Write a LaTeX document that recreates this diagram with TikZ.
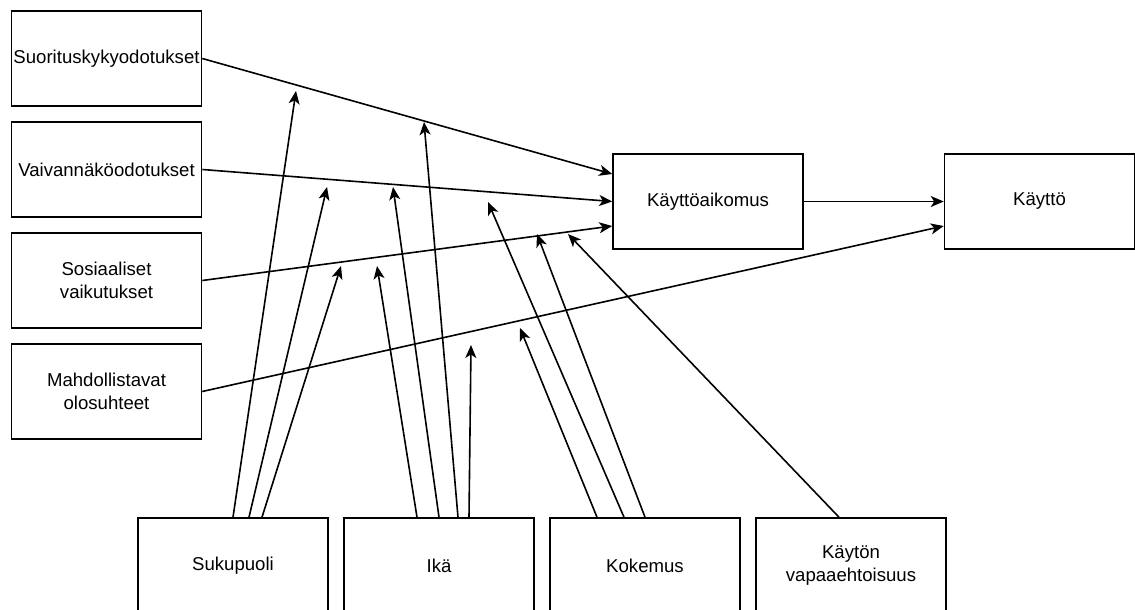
\documentclass[tikz,border=0pt]{standalone}
\usepackage{fontspec}
\setmainfont{Liberation Sans}
\usetikzlibrary{arrows.meta,calc}
\begin{document}
\begin{tikzpicture}[x=1pt,y=-1pt,
  box/.style={draw=black, line width=1.6pt, minimum width=190pt, minimum height=95pt,
    inner sep=0pt, align=center, font=\fontsize{18.6}{22.6}\selectfont, text=black},
  conn/.style={line width=1.6pt, draw=black, -{Stealth[length=13pt,width=11pt,inset=3.5pt]}},
]
\useasboundingbox (0,0) rectangle (1135,610);
\fill[white] (0,0) rectangle (1135,610);

% left boxes
\node[box] (suo) at (106.5,58.5) {Suorituskykyodotukset};
\node[box] (vai) at (106.5,169.5) {Vaivannäköodotukset};
\node[box] (sos) at (106.5,280.5) {Sosiaaliset\\vaikutukset};
\node[box] (mah) at (106.5,391.5) {Mahdollistavat\\olosuhteet};

% right boxes
\node[box] (ka) at (708,201.5) {Käyttöaikomus};
\node[box] (kay) at (1039.5,201.5) {Käyttö};

% bottom boxes
\node[box] (suk) at (233,565.5) {Sukupuoli};
\node[box] (ika) at (439,565.5) {Ikä};
\node[box] (kok) at (645,565.5) {Kokemus};
\node[box] (vap) at (851,565.5) {Käytön\\vapaaehtoisuus};

% main connectors
\draw[conn] (suo.east) -- ([yshift=27.5pt]ka.west);
\draw[conn] (vai.east) -- (ka.west);
\draw[conn] (sos.east) -- ([yshift=-24.5pt]ka.west);
\draw[conn] (mah.east) -- ([yshift=-24.5pt]kay.west);
\draw[conn] (ka.east) -- (kay.west);

% moderator targets
\coordinate (t1) at (296,91);
\coordinate (t2) at (327,187);
\coordinate (t3) at (341,266);
\coordinate (t4) at (377,266);
\coordinate (t5) at (393,187);
\coordinate (t6) at (424,122);
\coordinate (t7) at (471,345);
\coordinate (t8) at (520,328);
\coordinate (t9) at (488,202);
\coordinate (t10) at (537,234);
\coordinate (t11) at (568,234);

% moderator arrows
\draw[conn] (suk.north) -- (t1);
\draw[conn] ([xshift=16pt]suk.north) -- (t2);
\draw[conn] ([xshift=29pt]suk.north) -- (t3);
\draw[conn] ([xshift=-22pt]ika.north) -- (t4);
\draw[conn] (ika.north) -- (t5);
\draw[conn] ([xshift=19pt]ika.north) -- (t6);
\draw[conn] ([xshift=30pt]ika.north) -- (t7);
\draw[conn] ([xshift=-48pt]kok.north) -- (t8);
\draw[conn] ([xshift=-21pt]kok.north) -- (t9);
\draw[conn] (kok.north) -- (t10);
\draw[conn] ([xshift=-12pt]vap.north) -- (t11);
\end{tikzpicture}
\end{document}
